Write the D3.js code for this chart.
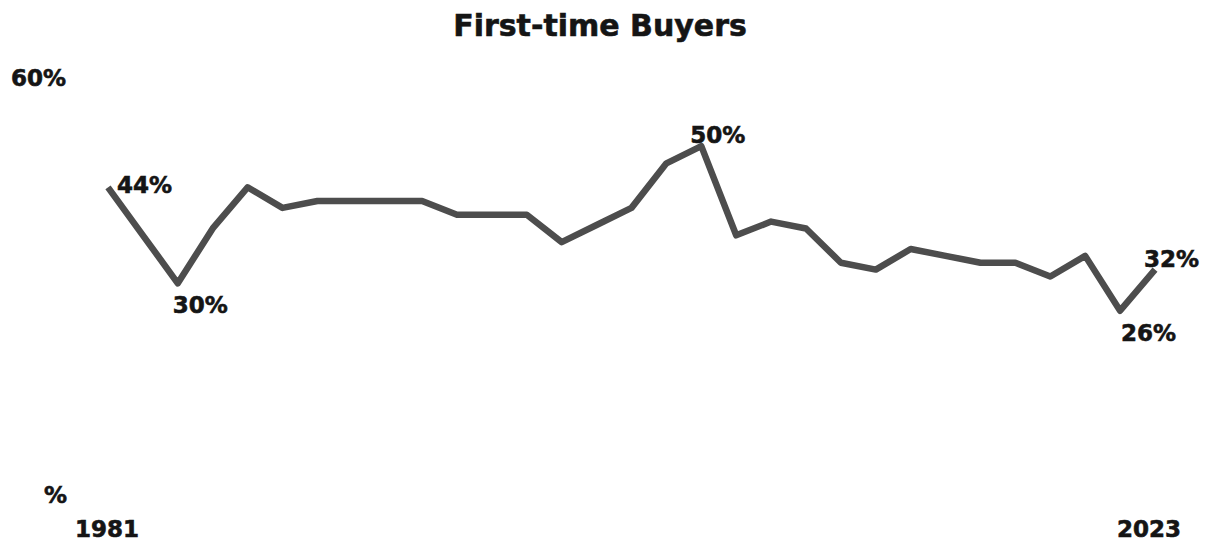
<!DOCTYPE html>
<html lang="en">
<head>
    <meta charset="UTF-8">
    <title>First-time Buyers</title>
    <style>
        body { margin: 0; background: #fff; }
        text { font-family: "DejaVu Sans", sans-serif; font-weight: bold; fill: #151515; stroke: #151515; stroke-width: 0.6px; }
    </style>
</head>
<body>

<div id="chart"></div>

<script src="https://cdn.jsdelivr.net/npm/d3@7"></script>
<script>
    const width = 1206,
          height = 541;

    // survey years (evenly spaced on the chart)
    const years = [1981, 1983, 1985, 1987, 1989, 1991, 1993, 1995, 1997, 2001,
                   2003, 2004, 2005, 2006, 2007, 2008, 2009, 2010, 2011, 2012,
                   2013, 2014, 2015, 2016, 2017, 2018, 2019, 2020, 2021, 2022, 2023];
    // share of first-time buyers, %
    const share = [44, 37, 30, 38, 44, 41, 42, 42, 42, 42,
                   40, 40, 40, 36, 38.5, 41, 47.5, 50, 37, 39,
                   38, 33, 32, 35, 34, 33, 33, 31, 34, 26, 32];
    const yTicks = [0, 60];
    const xTicks = [1981, 2023];
    // which points get a value label, and where the label sits
    const callouts = [
        {year: 1981, pos: "right"},
        {year: 1985, pos: "below"},
        {year: 2010, pos: "above"},
        {year: 2022, pos: "below"},
        {year: 2023, pos: "above"}
    ];

    const data = years.map((y, i) => ({year: y, value: share[i]}));

    let svg = d3.select("#chart")
        .append("svg")
        .attr("width", width)
        .attr("height", height);

    let x = d3.scalePoint()
        .domain(years)
        .range([108, 1155]);

    let y = d3.scaleLinear()
        .domain([0, 60])
        .range([489, 77.6]);

    // title
    svg.append("text")
        .attr("x", 600)
        .attr("y", 36)
        .attr("text-anchor", "middle")
        .style("font-size", "30px")
        .text("First-time Buyers");

    // y labels (only 60% and the bare "%")
    svg.append("g")
        .selectAll("text")
        .data(yTicks)
        .join("text")
            .attr("x", d => d === 0 ? 44 : 11)
            .attr("y", d => y(d) + (d === 0 ? 14 : 8))
            .style("font-size", "23px")
            .text(d => d === 0 ? "%" : d + "%");

    // x labels
    svg.append("g")
        .selectAll("text")
        .data(xTicks)
        .join("text")
            .attr("x", d => x(d) + (d === 2023 ? -6 : -1))
            .attr("y", 537)
            .attr("text-anchor", "middle")
            .style("font-size", "23px")
            .text(d => d);

    // the line
    svg.append("path")
        .datum(data)
        .attr("fill", "none")
        .attr("stroke", "#4d4d4d")
        .attr("stroke-width", 6.5)
        .attr("stroke-linejoin", "round")
        .attr("d", d3.line()
            .x(d => x(d.year))
            .y(d => y(d.value))
        );

    // value labels
    const offsets = {
        right: [9, 6],
        below: [-5, 30],
        above: [-11, -3]
    };
    svg.append("g")
        .selectAll("text")
        .data(callouts)
        .join("text")
            .attr("x", d => x(d.year) + offsets[d.pos][0] + (d.year === 2022 ? 6 : 0))
            .attr("y", d => y(share[years.indexOf(d.year)]) + offsets[d.pos][1])
            .style("font-size", "23px")
            .text(d => Math.round(share[years.indexOf(d.year)]) + "%");
</script>
</body>
</html>
